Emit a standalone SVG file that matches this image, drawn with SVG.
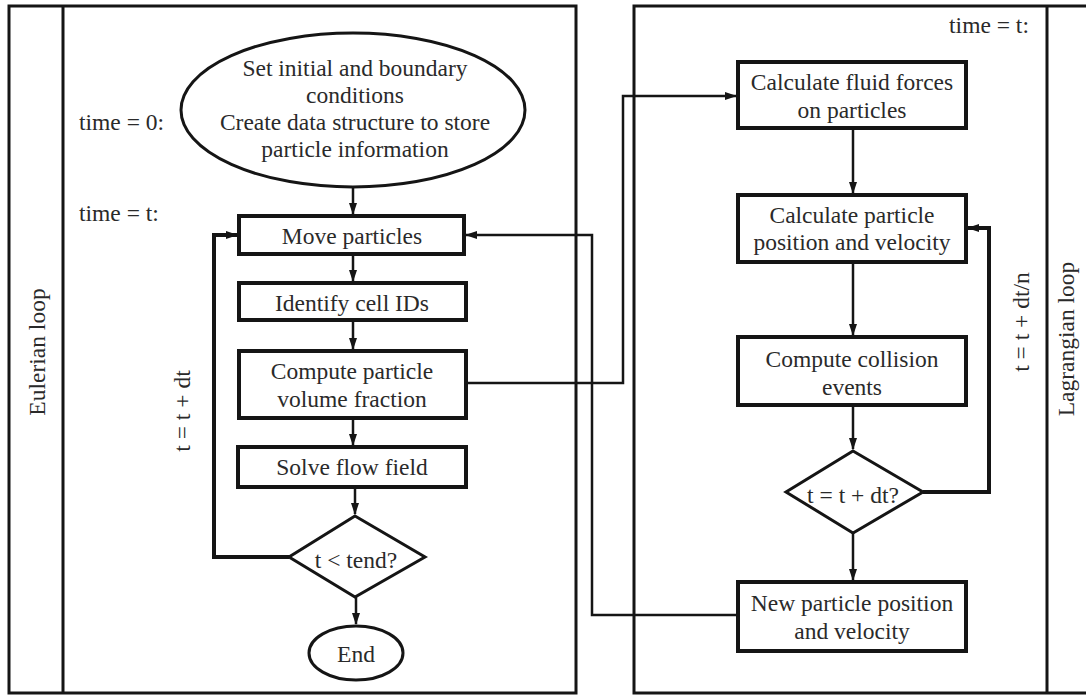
<svg xmlns="http://www.w3.org/2000/svg" width="1086" height="695" viewBox="0 0 1086 695">
<style>
text{font-family:"Liberation Serif","Times New Roman",serif;font-size:23.5px;fill:#2a2a2a;text-anchor:middle}
.panel{fill:none;stroke:#151515;stroke-width:3}
.box{fill:#fff;stroke:#151515;stroke-width:4}
.thin{fill:none;stroke:#151515;stroke-width:2.5}
.thick{fill:none;stroke:#151515;stroke-width:4}
.lbl{text-anchor:start}
</style>
<defs>
<marker id="ah" markerUnits="userSpaceOnUse" markerWidth="12" markerHeight="10" viewBox="0 0 12 10" refX="11" refY="5" orient="auto">
<path d="M0,1 L12,5 L0,9 Z" fill="#151515"/>
</marker>
</defs>
<rect width="1086" height="695" fill="#fff"/>
<g id="panels">
<rect class="panel" x="9" y="6" width="567" height="687"/>
<line class="panel" x1="63" y1="6" x2="63" y2="693"/>
<rect class="panel" x="634" y="6" width="460" height="687"/>
<line class="panel" x1="1047" y1="6" x2="1047" y2="693"/>
<text transform="translate(45,352) rotate(-90)">Eulerian loop</text>
<text transform="translate(1074,339) rotate(-90)">Lagrangian loop</text>
<text class="lbl" x="79" y="130">time = 0:</text>
<text class="lbl" x="79" y="221">time = t:</text>
<text x="989" y="33">time = t:</text>
<text transform="translate(190,411) rotate(-90)">t = t + dt</text>
<text transform="translate(1029,322) rotate(-90)">t = t + dt/n</text>
</g>
<g id="connectors">
<line class="thin" x1="353" y1="187" x2="353" y2="214" marker-end="url(#ah)"/>
<line class="thin" x1="353" y1="254" x2="353" y2="281" marker-end="url(#ah)"/>
<line class="thin" x1="353" y1="320" x2="353" y2="349" marker-end="url(#ah)"/>
<line class="thin" x1="353" y1="418" x2="353" y2="445" marker-end="url(#ah)"/>
<line class="thin" x1="355" y1="487" x2="355" y2="514" marker-end="url(#ah)"/>
<line class="thin" x1="356" y1="597" x2="356" y2="624" marker-end="url(#ah)"/>
<polyline class="thick" points="289,557 214,557 214,235 237,235" marker-end="url(#ah)"/>
<polyline class="thin" points="466,383 623,383 623,96 736,96" marker-end="url(#ah)"/>
<polyline class="thin" points="738,615 592,615 592,235 466,235" marker-end="url(#ah)"/>
<line class="thin" x1="853" y1="128" x2="853" y2="193" marker-end="url(#ah)"/>
<line class="thin" x1="853" y1="262" x2="853" y2="335" marker-end="url(#ah)"/>
<line class="thin" x1="853" y1="405" x2="853" y2="449" marker-end="url(#ah)"/>
<line class="thin" x1="853" y1="533" x2="853" y2="580" marker-end="url(#ah)"/>
<polyline class="thick" points="923,492 989,492 989,228 968,228" marker-end="url(#ah)"/>
</g>
<g id="start">
<ellipse cx="353" cy="110" rx="172" ry="77" fill="#fff" stroke="#151515" stroke-width="3"/>
<text x="355" y="76">Set initial and boundary</text>
<text x="355" y="103">conditions</text>
<text x="355" y="130">Create data structure to store</text>
<text x="355" y="157">particle information</text>
</g>
<g id="move">
<rect class="box" x="239" y="216" width="225" height="38"/>
<text x="352" y="244">Move particles</text>
</g>
<g id="identify">
<rect class="box" x="239" y="283" width="227" height="37"/>
<text x="352" y="311">Identify cell IDs</text>
</g>
<g id="volfrac">
<rect class="box" x="239" y="351" width="227" height="67"/>
<text x="352" y="379">Compute particle</text>
<text x="352" y="407">volume fraction</text>
</g>
<g id="solve">
<rect class="box" x="238" y="447" width="228" height="40"/>
<text x="352" y="475">Solve flow field</text>
</g>
<g id="tend">
<polygon points="355,516 425,557 355,597 289,557" fill="#fff" stroke="#151515" stroke-width="3"/>
<text x="356" y="568">t &lt; tend?</text>
</g>
<g id="end">
<ellipse cx="356" cy="653" rx="47" ry="27" fill="#fff" stroke="#151515" stroke-width="3"/>
<text x="356" y="662">End</text>
</g>
<g id="fluidforces">
<rect class="box" x="738" y="62" width="228" height="66"/>
<text x="852" y="90">Calculate fluid forces</text>
<text x="852" y="118">on particles</text>
</g>
<g id="posvel">
<rect class="box" x="738" y="195" width="228" height="67"/>
<text x="852" y="223">Calculate particle</text>
<text x="852" y="250">position and velocity</text>
</g>
<g id="collision">
<rect class="box" x="738" y="337" width="228" height="68"/>
<text x="852" y="367">Compute collision</text>
<text x="852" y="395">events</text>
</g>
<g id="dtcheck">
<polygon points="853,451 923,492 853,533 786,492" fill="#fff" stroke="#151515" stroke-width="3"/>
<text x="853" y="503">t = t + dt?</text>
</g>
<g id="newpos">
<rect class="box" x="738" y="582" width="228" height="69"/>
<text x="852" y="611">New particle position</text>
<text x="852" y="639">and velocity</text>
</g>
</svg>
